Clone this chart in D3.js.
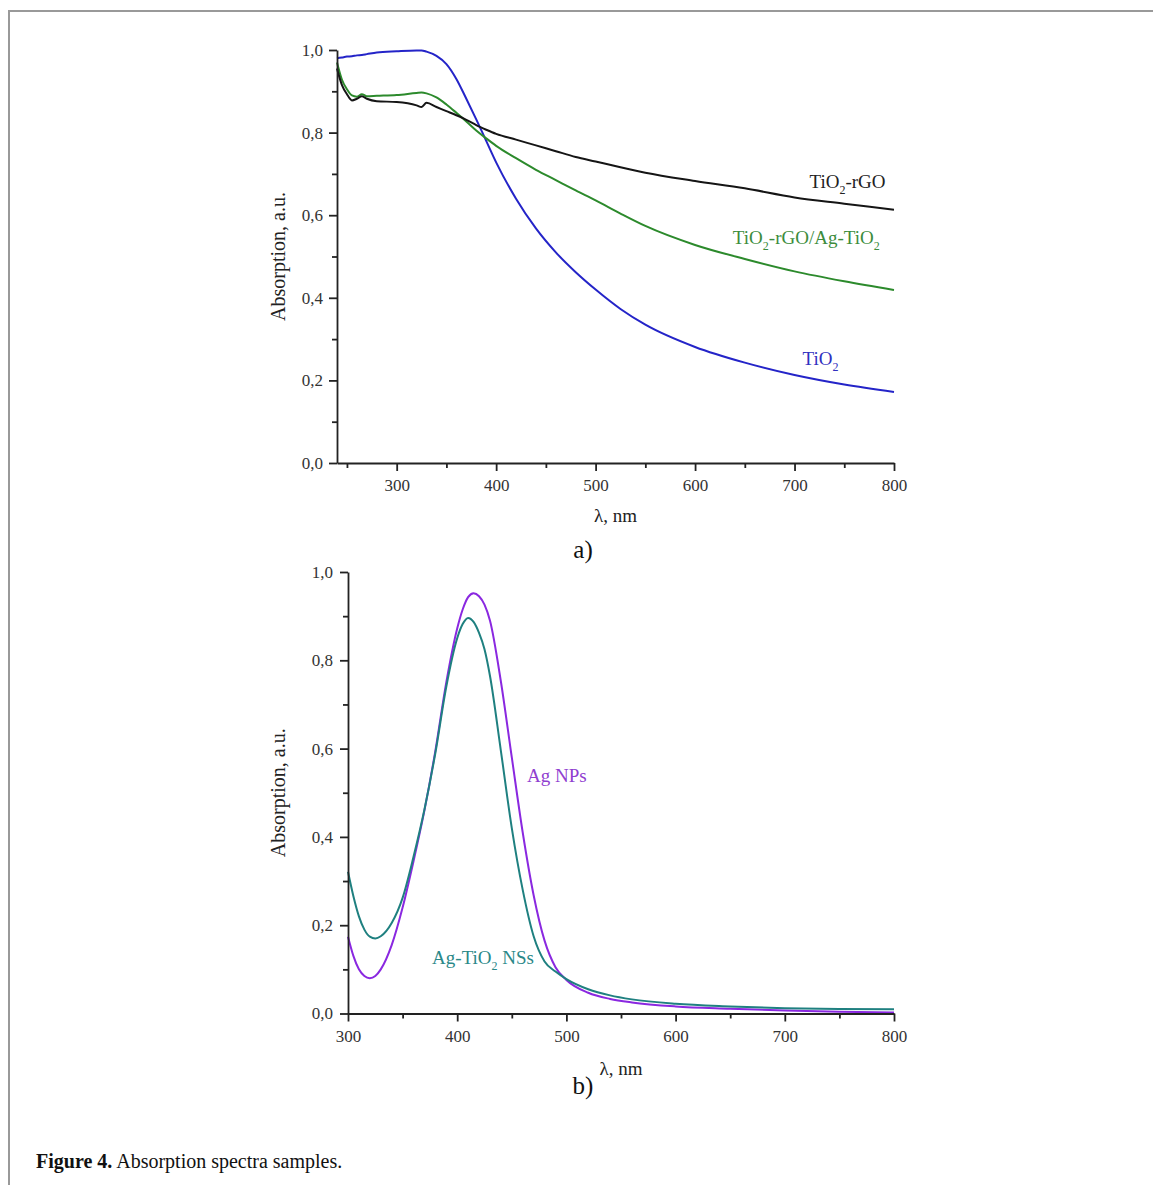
<!DOCTYPE html>
<html>
<head>
<meta charset="utf-8">
<script src="https://cdn.jsdelivr.net/npm/d3@7"></script>
<style>
    body { margin: 0; background: #fff; }
    svg { display: block; }
    text { font-family: "Liberation Serif", "Times New Roman", serif; }
    .tick text { font-size: 17px; fill: #333; }
    .axis path, .axis line { stroke: #222; stroke-width: 1.8; }
    .curve { fill: none; stroke-width: 2; }
</style>
</head>
<body>
<svg id="figure" width="1153" height="1185"></svg>
<script>

// panel a)
const topWavelengths = [240, 245, 250, 255, 260, 265, 270, 280, 300, 320, 325, 330, 340, 350, 360,
    370, 380, 390, 400, 420, 440, 460, 480, 500, 525, 550, 600, 650, 700, 750, 800];
const tio2 = [0.980, 0.982, 0.984, 0.985, 0.987, 0.988, 0.990, 0.994, 0.997, 0.999, 0.999, 0.996, 0.986, 0.966, 0.930,
    0.882, 0.832, 0.780, 0.728, 0.640, 0.568, 0.510, 0.462, 0.420, 0.373, 0.335, 0.281, 0.243, 0.213, 0.190, 0.172];
const tio2Rgo = [0.955, 0.915, 0.893, 0.878, 0.882, 0.888, 0.882, 0.876, 0.874, 0.866, 0.862, 0.872, 0.862, 0.852, 0.842,
    0.831, 0.818, 0.807, 0.797, 0.783, 0.769, 0.755, 0.741, 0.730, 0.716, 0.703, 0.683, 0.665, 0.643, 0.628, 0.613];
const tio2RgoAgTio2 = [0.970, 0.928, 0.905, 0.890, 0.887, 0.893, 0.888, 0.889, 0.891, 0.896, 0.897, 0.895, 0.885, 0.868, 0.848,
    0.827, 0.805, 0.786, 0.768, 0.738, 0.710, 0.685, 0.660, 0.636, 0.604, 0.574, 0.528, 0.494, 0.464, 0.440, 0.419];
const topXTicks = [300, 400, 500, 600, 700, 800];
const topXMinor = [250, 350, 450, 550, 650, 750];

// panel b)
const bottomWavelengths = [300, 305, 310, 315, 320, 325, 330, 340, 350, 360, 370, 380, 390, 400, 405, 410, 415,
    420, 425, 430, 440, 450, 460, 470, 480, 490, 500, 520, 540, 560, 600, 650, 700, 750, 800];
const agNps = [0.174, 0.130, 0.100, 0.085, 0.080, 0.085, 0.100, 0.155, 0.240, 0.345, 0.460, 0.595, 0.750, 0.872, 0.915, 0.943, 0.952,
    0.945, 0.926, 0.890, 0.752, 0.580, 0.410, 0.268, 0.165, 0.105, 0.076, 0.047, 0.033, 0.025, 0.016, 0.011, 0.007, 0.004, 0.002];
const agTio2Nss = [0.321, 0.265, 0.220, 0.190, 0.174, 0.170, 0.175, 0.205, 0.262, 0.355, 0.462, 0.590, 0.740, 0.850, 0.882, 0.896, 0.887,
    0.862, 0.825, 0.765, 0.595, 0.420, 0.280, 0.175, 0.118, 0.095, 0.078, 0.055, 0.041, 0.032, 0.022, 0.016, 0.012, 0.010, 0.0095];
const bottomXTicks = [300, 400, 500, 600, 700, 800];
const bottomXMinor = [350, 450, 550, 650, 750];

const yTicks = [0, 0.2, 0.4, 0.6, 0.8, 1.0];
const yMinor = [0.1, 0.3, 0.5, 0.7, 0.9];


class SpectrumPanel {

    constructor(svg, opts) {

        this.svg = svg;
        this.opts = opts;
        this.x = d3.scaleLinear().domain(opts.xDomain).range([opts.left, opts.right]);
        this.y = d3.scaleLinear().domain([0, 1]).range([opts.bottom, opts.top]);
        this.g = svg.append("g").attr("id", opts.id);

        this.drawCurves();
        this.drawAxes();
        this.drawTitles();
        this.drawLabels();

    }

    drawCurves() {

        let line = d3.line()
            .x(d => this.x(d[0]))
            .y(d => this.y(d[1]))
            .curve(d3.curveMonotoneX);

        this.opts.series.forEach(s => {
            this.g.append("path")
                .classed("curve", true)
                .attr("stroke", s.color)
                .attr("d", line(this.opts.wavelengths.map((w, i) => [w, s.values[i]])));
        });

    }

    drawAxes() {

        let comma = d => d.toFixed(1).replace(".", ",");

        // minor ticks first so the major ones sit on top
        this.g.append("g")
            .classed("axis", true)
            .attr("transform", `translate(0,${this.opts.bottom})`)
            .call(d3.axisBottom(this.x).tickValues(this.opts.xMinor).tickSize(5).tickFormat(""))
            .select(".domain").remove();

        this.g.append("g")
            .classed("axis", true)
            .attr("transform", `translate(${this.opts.left},0)`)
            .call(d3.axisLeft(this.y).tickValues(yMinor).tickSize(5).tickFormat(""))
            .select(".domain").remove();

        this.g.append("g")
            .classed("axis", true)
            .attr("transform", `translate(0,${this.opts.bottom})`)
            .call(d3.axisBottom(this.x).tickValues(this.opts.xTicks).tickSize(8).tickSizeOuter(0).tickPadding(8));

        this.g.append("g")
            .classed("axis", true)
            .attr("transform", `translate(${this.opts.left},0)`)
            .call(d3.axisLeft(this.y).tickValues(yTicks).tickSize(8).tickSizeOuter(0).tickPadding(this.opts.yPad)
                .tickFormat(comma));

    }

    drawTitles() {

        let o = this.opts;

        this.g.append("text")
            .attr("transform", `translate(285,${(o.top + o.bottom) / 2}) rotate(-90)`)
            .attr("text-anchor", "middle")
            .attr("font-size", 20)
            .attr("fill", "#222")
            .text("Absorption, a.u.");

        this.g.append("text")
            .attr("x", (o.left + o.right) / 2)
            .attr("y", o.bottom + o.titleDy)
            .attr("text-anchor", "middle")
            .attr("font-size", 19)
            .attr("fill", "#222")
            .text("λ, nm");

        this.g.append("text")
            .attr("x", 583)
            .attr("y", o.bottom + o.tagDy)
            .attr("text-anchor", "middle")
            .attr("font-size", 25)
            .attr("fill", "#111")
            .text(o.tag);

    }

    drawLabels() {

        this.opts.series.forEach(s => {
            let text = this.g.append("text")
                .attr("x", this.x(s.label.at[0]))
                .attr("y", this.y(s.label.at[1]))
                .attr("font-size", 19)
                .attr("fill", s.label.color);
            let lowered = false;
            s.label.parts.forEach(p => {
                // second entry marks a subscript
                if (p[1]) {
                    text.append("tspan").attr("dy", 6).attr("font-size", 12).text(p[0]);
                    lowered = true;
                } else {
                    text.append("tspan").attr("dy", lowered ? -6 : 0).text(p[0]);
                    lowered = false;
                }
            });
        });

    }

}


let svg = d3.select("#figure");

// page frame
svg.append("path")
    .attr("d", "M9,1185 L9,11 L1153,11")
    .attr("fill", "none")
    .attr("stroke", "#999")
    .attr("stroke-width", 2);

new SpectrumPanel(svg, {
    id: "panel-a",
    xDomain: [240, 800],
    left: 337, right: 894, top: 50, bottom: 463,
    wavelengths: topWavelengths,
    xTicks: topXTicks,
    xMinor: topXMinor,
    yPad: 6,
    tag: "a)",
    titleDy: 59,
    tagDy: 95,
    series: [
        { values: tio2, color: "#2424c8",
          label: { at: [708, 0.238], color: "#3030c0", parts: [["TiO"], ["2", true]] } },
        { values: tio2RgoAgTio2, color: "#2c8a2c",
          label: { at: [638, 0.530], color: "#3c8c3c", parts: [["TiO"], ["2", true], ["-rGO/Ag-TiO"], ["2", true]] } },
        { values: tio2Rgo, color: "#151515",
          label: { at: [715, 0.665], color: "#222", parts: [["TiO"], ["2", true], ["-rGO"]] } }
    ]
});

new SpectrumPanel(svg, {
    id: "panel-b",
    xDomain: [300, 800],
    left: 348, right: 894, top: 572, bottom: 1013.5,
    wavelengths: bottomWavelengths,
    xTicks: bottomXTicks,
    xMinor: bottomXMinor,
    yPad: 7,
    tag: "b)",
    titleDy: 61,
    tagDy: 80,
    series: [
        { values: agNps, color: "#8a28e0",
          label: { at: [464, 0.525], color: "#9040d0", parts: [["Ag NPs"]] } },
        { values: agTio2Nss, color: "#1f8080",
          label: { at: [377, 0.113], color: "#2a8888", parts: [["Ag-TiO"], ["2", true], [" NSs"]] } }
    ]
});

// caption
let caption = svg.append("text")
    .attr("x", 36)
    .attr("y", 1168)
    .attr("font-size", 20)
    .attr("fill", "#111");
caption.append("tspan").attr("font-weight", "bold").text("Figure 4.");
caption.append("tspan").text(" Absorption spectra samples.");

</script>
</body>
</html>
